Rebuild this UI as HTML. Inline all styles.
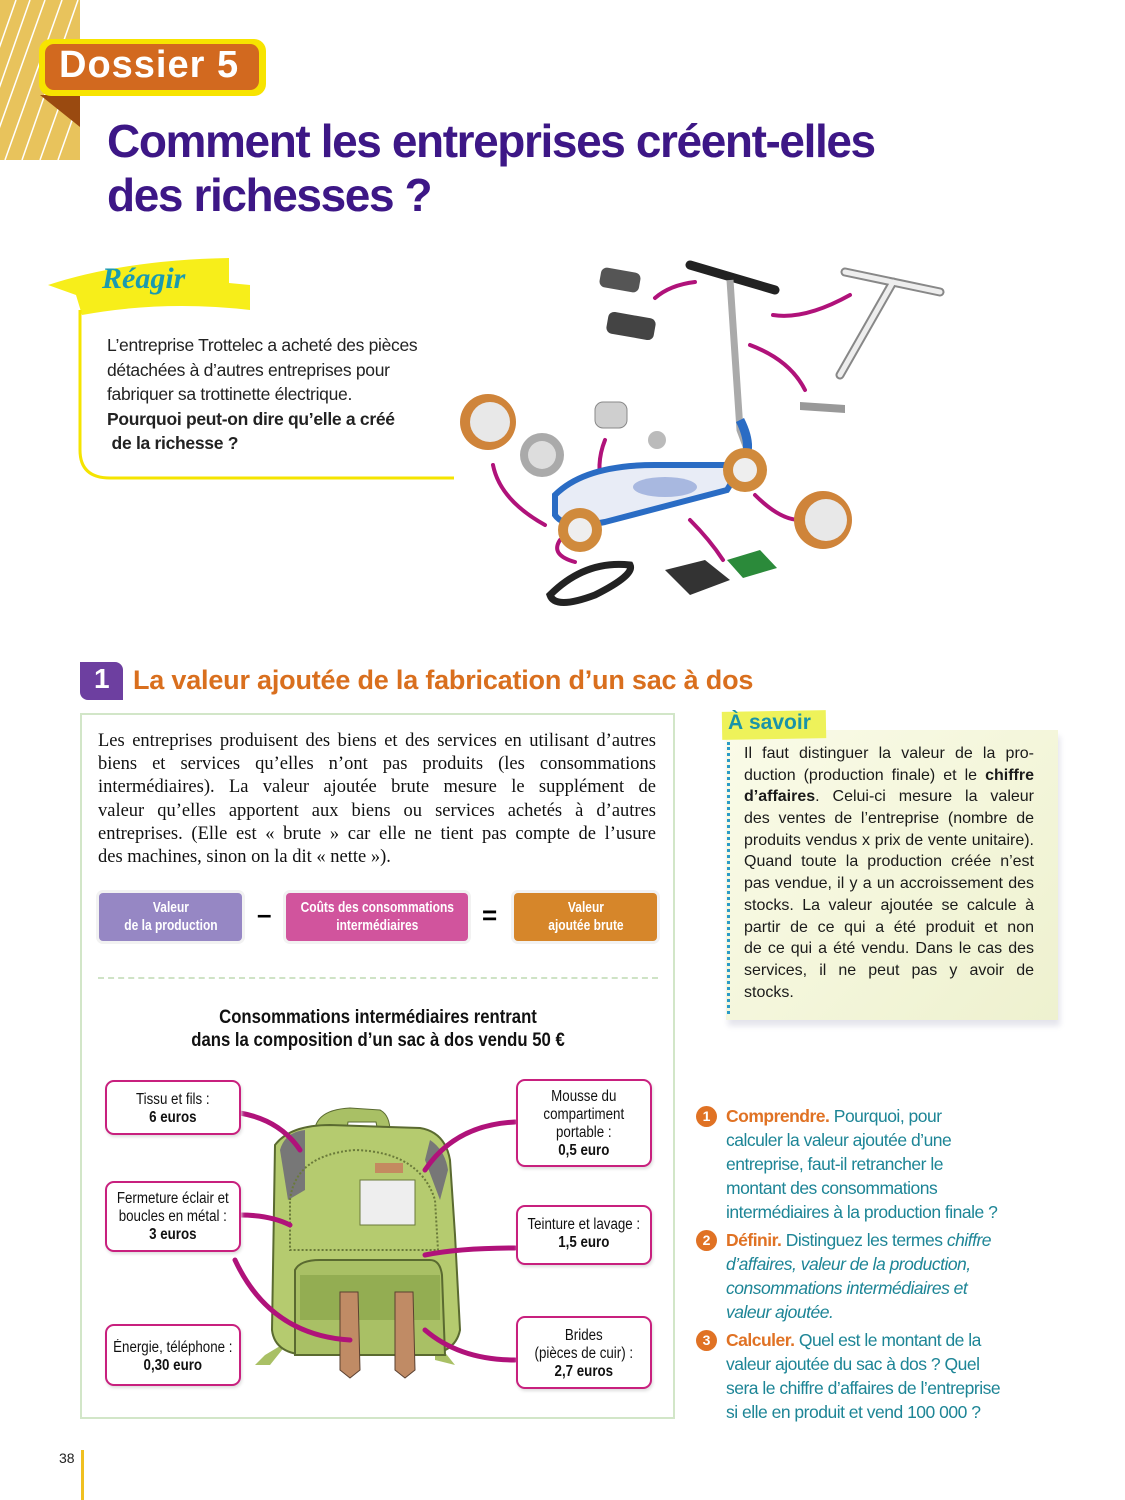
<!DOCTYPE html>
<html><head><meta charset="utf-8">
<style>
*{margin:0;padding:0;box-sizing:border-box}
body{width:1125px;height:1500px;position:relative;background:#fff;font-family:"Liberation Sans",sans-serif;overflow:hidden}
.a{position:absolute}
.n{width:130%;margin-left:-15%;transform:scaleX(.86);transform-origin:50% 0;white-space:nowrap}
.t{position:absolute;white-space:nowrap}
.par div{height:23.2px;text-align:justify;text-align-last:justify}
.sav div{height:21.7px;text-align:justify;text-align-last:justify}
.fb{position:absolute;top:893px;height:48px;border-radius:4px;color:#fff;font-weight:bold;font-size:15px;line-height:18px;text-align:center;padding-top:6px;box-shadow:0 0 0 3px #f2f2f2}
.fb .n{transform:scaleX(.8)}
.lb{position:absolute;border:2px solid #c8207e;border-radius:9px;background:#fff;text-align:center;font-size:15.5px;line-height:18px;color:#111;box-shadow:1px 2px 3px #ddd}
.q{position:absolute;left:726px;font-size:17.5px;line-height:24px;color:#1d8596;letter-spacing:-0.5px}
.q b{color:#e07224}
.num{position:absolute;left:696px;width:21px;height:21px;border-radius:50%;background:#e07224;color:#fff;font-weight:bold;font-size:14px;text-align:center;line-height:21px}
</style></head><body>

<svg class="a" style="left:0;top:0" width="82" height="162">
<rect x="0" y="0" width="80" height="160" fill="#e8c35c"/>
<g stroke="#fff" stroke-width="1.5">
<line x1="-5" y1="100" x2="30" y2="0"/><line x1="-5" y1="140" x2="45" y2="0"/><line x1="5" y1="160" x2="62" y2="0"/><line x1="22" y1="160" x2="78" y2="0"/><line x1="40" y1="160" x2="80" y2="48"/><line x1="58" y1="160" x2="80" y2="98"/><line x1="-5" y1="60" x2="16" y2="0"/>
</g></svg>
<div class="a" style="left:40px;top:95px;width:0;height:0;border-top:32px solid #9a4a10;border-left:40px solid transparent"></div>
<div class="a" style="left:39px;top:39px;width:227px;height:57px;background:#f7e400;border-radius:12px"></div>
<div class="a" style="left:45px;top:44px;width:214px;height:46px;background:#d2691f;border-radius:9px"></div>
<div class="t" style="left:59px;top:44px;font-size:38px;font-weight:bold;color:#fff;letter-spacing:1px">Dossier 5</div>

<div class="t" style="left:107px;top:114px;font-size:46px;font-weight:bold;color:#3d1786;letter-spacing:-1.4px;line-height:54px">Comment les entreprises créent-elles<br>des richesses ?</div>

<svg class="a" style="left:44px;top:255px" width="212" height="64">
<path d="M4,30 Q80,5 185,3 L185,28 L206,30 L206,55 Q120,45 38,60 L32,40 Z" fill="#f7ee1a"/>
</svg>
<div class="t" style="left:102px;top:262px;font-family:'Liberation Serif',serif;font-style:italic;font-weight:bold;font-size:30px;color:#1a9ab0">Réagir</div>
<svg class="a" style="left:76px;top:310px" width="380" height="172">
<path d="M4,0 L4,140 Q4,168 34,168 L378,168" fill="none" stroke="#f5e400" stroke-width="3"/>
</svg>
<div class="a" style="left:107px;top:333px;font-size:17.5px;line-height:24.5px;color:#222;letter-spacing:-0.3px">L’entreprise Trottelec a acheté des pièces<br>détachées à d’autres entreprises pour<br>fabriquer sa trottinette électrique.<br><b>Pourquoi peut-on dire qu’elle a créé<br>&nbsp;de la richesse ?</b></div>

<svg class="a" style="left:455px;top:250px" width="500" height="365">
<g fill="none" stroke="#b0127a" stroke-width="4" stroke-linecap="round">
<path d="M200,48 Q215,35 240,32"/><path d="M318,65 Q350,70 395,45"/><path d="M295,95 Q335,110 350,140"/>
<path d="M38,215 Q45,250 90,275"/><path d="M150,190 Q140,215 148,240"/><path d="M105,290 Q95,305 120,312"/><path d="M235,270 Q255,290 268,310"/><path d="M300,245 Q325,270 345,270"/>
</g>
<rect x="145" y="20" width="40" height="20" rx="6" fill="#555" transform="rotate(10 165 30)"/>
<rect x="152" y="65" width="48" height="22" rx="6" fill="#444" transform="rotate(10 176 76)"/>
<g stroke="#888" stroke-width="9" stroke-linecap="round"><line x1="390" y1="22" x2="485" y2="42"/><line x1="438" y1="32" x2="385" y2="125"/></g>
<g stroke="#eee" stroke-width="5" stroke-linecap="round"><line x1="390" y1="22" x2="485" y2="42"/><line x1="438" y1="32" x2="385" y2="125"/></g>
<path d="M345,152 l45,3 0,8 -45,-3 z" fill="#999"/>
<path d="M235,15 L320,40" stroke="#222" stroke-width="9" stroke-linecap="round"/>
<path d="M275,30 L285,180 L300,220" stroke="#aaa" stroke-width="7" fill="none"/>
<path d="M285,170 Q300,200 285,215" stroke="#2a6cc4" stroke-width="9" fill="none"/>
<path d="M100,245 Q130,215 200,215 L270,215 Q285,220 272,240 L150,272 Q110,280 100,265 Z" fill="#e8ecf6" stroke="#2a6cc4" stroke-width="6"/>
<ellipse cx="210" cy="237" rx="32" ry="10" fill="#a8b8e0"/>
<circle cx="290" cy="220" r="22" fill="#d08a3c"/><circle cx="290" cy="220" r="12" fill="#eee"/>
<circle cx="125" cy="280" r="22" fill="#d08a3c"/><circle cx="125" cy="280" r="12" fill="#eee"/>
<circle cx="33" cy="172" r="28" fill="#cf843a"/><circle cx="35" cy="172" r="20" fill="#e8e8e8"/>
<circle cx="87" cy="205" r="22" fill="#aaa"/><circle cx="87" cy="205" r="14" fill="#ddd"/>
<circle cx="368" cy="270" r="29" fill="#cf843a"/><circle cx="371" cy="270" r="21" fill="#e8e8e8"/>
<rect x="140" y="152" width="32" height="26" rx="8" fill="#cfcfcf" stroke="#888"/>
<circle cx="202" cy="190" r="9" fill="#bbb"/>
<path d="M95,345 Q130,310 175,315 Q180,325 140,345 Q100,360 95,345 Z" fill="none" stroke="#222" stroke-width="7"/>
<path d="M210,320 L250,310 L275,330 L235,345 Z" fill="#333"/>
<path d="M272,310 L305,300 L322,318 L288,328 Z" fill="#2b8a3a"/>
</svg>

<div class="a" style="left:80px;top:662px;width:43px;height:38px;background:#6d3fa0;border-radius:0 8px 0 8px"></div>
<div class="t" style="left:94px;top:663px;font-size:28px;font-weight:bold;color:#fff">1</div>
<div class="t" style="left:133px;top:665px;font-size:27px;font-weight:bold;color:#d96f1e;letter-spacing:-0.2px">La valeur ajoutée de la fabrication d’un sac à dos</div>

<div class="a" style="left:80px;top:713px;width:595px;height:706px;border:2px solid #d2e6c8"></div>
<div class="a par" style="left:98px;top:730px;width:558px;font-family:'Liberation Serif',serif;font-size:18.5px;line-height:23.2px;color:#111">
<div>Les entreprises produisent des biens et des services en utilisant d’autres</div>
<div>biens et services qu’elles n’ont pas produits (les consommations</div>
<div>intermédiaires). La valeur ajoutée brute mesure le supplément de</div>
<div>valeur qu’elles apportent aux biens ou services achetés à d’autres</div>
<div>entreprises. (Elle est « brute » car elle ne tient pas compte de l’usure</div>
<div style="text-align-last:left">des machines, sinon on la dit « nette »).</div>
</div>

<div class="fb" style="left:99px;width:143px;background:#9687c4"><div class="n">Valeur<br>de la production</div></div>
<div class="t" style="left:257px;top:899px;font-size:26px;font-weight:bold">–</div>
<div class="fb" style="left:286px;width:182px;background:#d1549d"><div class="n">Coûts des consommations<br>intermédiaires</div></div>
<div class="t" style="left:482px;top:900px;font-size:26px;font-weight:bold">=</div>
<div class="fb" style="left:514px;width:143px;background:#d6862a"><div class="n">Valeur<br>ajoutée brute</div></div>

<div class="a" style="left:98px;top:977px;width:560px;border-top:2px dashed #cfe3c6"></div>
<div class="a" style="left:98px;top:1006px;width:560px;text-align:center;font-size:19px;font-weight:bold;line-height:23px;color:#111"><div class="n" style="transform:scaleX(.88)">Consommations intermédiaires rentrant<br>dans la composition d’un sac à dos vendu 50 €</div></div>

<svg class="a" style="left:90px;top:1070px" width="580" height="340">
<path d="M175,285 L165,295 L180,295 L200,270 Z M345,270 L365,295 L345,290 Z" fill="#a9c065"/>
<path d="M225,70 Q220,40 260,38 L290,40 Q300,45 300,62 L288,62 L286,52 L258,52 L256,66 Z" fill="#a9c065" stroke="#5a6a30"/>
<path d="M185,75 Q200,55 240,55 L330,58 Q355,62 360,90 L365,165 L370,260 Q365,285 330,285 L220,285 Q185,285 182,260 Z" fill="#b5cb6f" stroke="#5a6a30" stroke-width="2"/>
<path d="M190,80 Q195,62 215,60 L215,120 L198,130 Z" fill="#777"/>
<path d="M340,70 Q355,80 358,100 L350,130 L335,90 Z" fill="#777"/>
<path d="M200,130 Q205,85 265,80 Q330,82 345,130 L348,180 L200,180 Z" fill="none" stroke="#6a7a3a" stroke-width="2" stroke-dasharray="2 2"/>
<rect x="285" y="93" width="28" height="10" fill="#c48a60"/>
<rect x="270" y="110" width="55" height="45" fill="#eee" stroke="#6a7a3a"/>
<path d="M205,200 Q210,190 230,190 L340,190 Q350,190 352,205 L355,285 L205,285 Z" fill="#a9c065" stroke="#5a6a30" stroke-width="2"/>
<rect x="210" y="205" width="140" height="45" fill="#93ad52"/>
<path d="M250,222 L268,222 L270,300 L260,308 L250,300 Z" fill="#c08b65" stroke="#5a4030"/>
<path d="M305,222 L323,222 L325,300 L315,308 L305,300 Z" fill="#c08b65" stroke="#5a4030"/>
<g fill="none" stroke="#b0127a" stroke-width="5" stroke-linecap="round">
<path d="M150,43 Q190,50 210,80"/>
<path d="M150,145 Q180,145 200,155"/>
<path d="M145,190 Q180,265 260,270"/>
<path d="M425,52 Q365,55 335,100"/>
<path d="M425,178 Q370,178 335,185"/>
<path d="M425,290 Q370,290 335,260"/>
</g>
</svg>

<div class="lb" style="left:105px;top:1080px;width:136px;height:55px;padding-top:9px"><div class="n">Tissu et fils :<br><b>6 euros</b></div></div>
<div class="lb" style="left:105px;top:1181px;width:136px;height:71px;padding-top:7px"><div class="n">Fermeture éclair et<br>boucles en métal :<br><b>3 euros</b></div></div>
<div class="lb" style="left:105px;top:1324px;width:136px;height:62px;padding-top:13px"><div class="n">Énergie, téléphone :<br><b>0,30 euro</b></div></div>
<div class="lb" style="left:516px;top:1079px;width:136px;height:88px;padding-top:7px"><div class="n">Mousse du<br>compartiment<br>portable :<br><b>0,5 euro</b></div></div>
<div class="lb" style="left:516px;top:1205px;width:136px;height:60px;padding-top:9px"><div class="n">Teinture et lavage :<br><b>1,5 euro</b></div></div>
<div class="lb" style="left:516px;top:1316px;width:136px;height:73px;padding-top:9px"><div class="n">Brides<br>(pièces de cuir) :<br><b>2,7 euros</b></div></div>

<div class="a" style="left:726px;top:730px;width:332px;height:290px;background:linear-gradient(135deg,#fafbe8,#eef1cf);box-shadow:2px 6px 6px #e4e4ec"></div>
<div class="a" style="left:722px;top:711px;width:104px;height:28px;background:#eef25a;transform:rotate(-1deg)"></div>
<div class="t" style="left:728px;top:711px;font-size:21px;font-weight:bold;color:#1a93a8">À savoir</div>
<div class="a" style="left:727px;top:742px;height:272px;border-left:3px dotted #2a9ac8"></div>
<div class="a sav" style="left:744px;top:743px;width:290px;font-size:16px;line-height:21.7px;color:#1a1a1a">
<div>Il faut distinguer la valeur de la pro-</div>
<div>duction (production finale) et le <b>chiffre</b></div>
<div><b>d’affaires</b>. Celui-ci mesure la valeur</div>
<div>des ventes de l’entreprise (nombre de</div>
<div>produits vendus x prix de vente unitaire).</div>
<div>Quand toute la production créée n’est</div>
<div>pas vendue, il y a un accroissement des</div>
<div>stocks. La valeur ajoutée se calcule à</div>
<div>partir de ce qui a été produit et non</div>
<div>de ce qui a été vendu. Dans le cas des</div>
<div>services, il ne peut pas y avoir de</div>
<div style="text-align-last:left">stocks.</div>
</div>

<div class="num" style="top:1106px">1</div>
<div class="q" style="top:1104px"><b>Comprendre.</b> Pourquoi, pour<br>calculer la valeur ajoutée d’une<br>entreprise, faut-il retrancher le<br>montant des consommations<br>intermédiaires à la production finale ?</div>
<div class="num" style="top:1230px">2</div>
<div class="q" style="top:1228px"><b>Définir.</b> Distinguez les termes <i>chiffre<br>d’affaires, valeur de la production,<br>consommations intermédiaires et<br>valeur ajoutée.</i></div>
<div class="num" style="top:1330px">3</div>
<div class="q" style="top:1328px"><b>Calculer.</b> Quel est le montant de la<br>valeur ajoutée du sac à dos ? Quel<br>sera le chiffre d’affaires de l’entreprise<br>si elle en produit et vend 100 000 ?</div>

<div class="t" style="left:59px;top:1450px;font-size:14px;color:#222">38</div>
<div class="a" style="left:81px;top:1450px;width:3px;height:50px;background:#f0c020"></div>
</body></html>
